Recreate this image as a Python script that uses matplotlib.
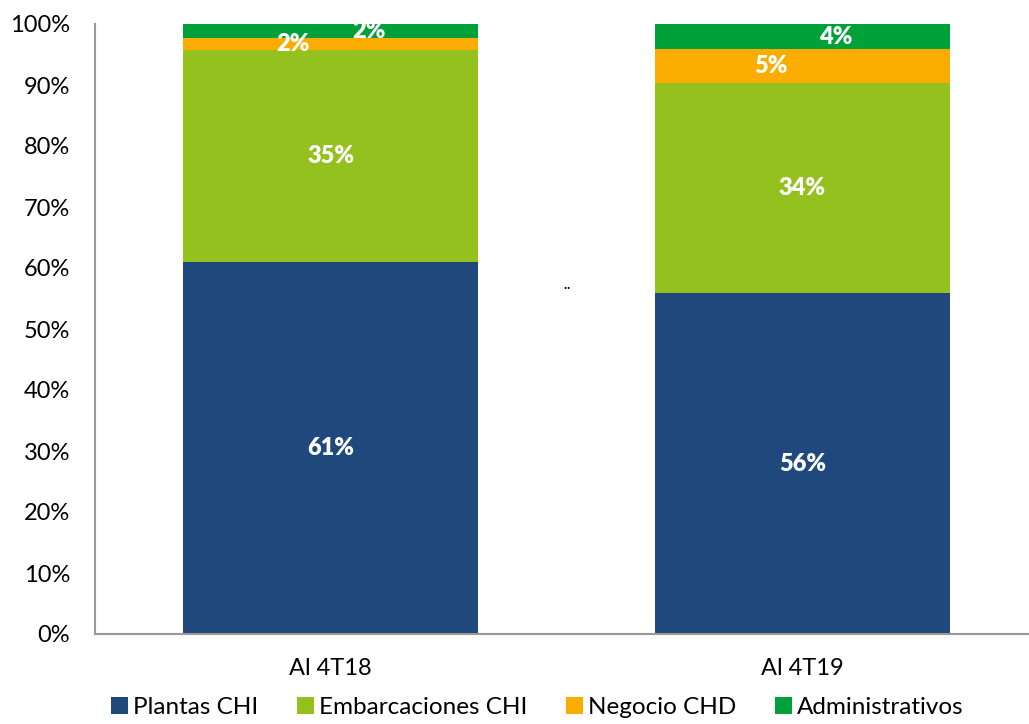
import numpy as np
import matplotlib.pyplot as plt
from matplotlib import rcParams

rcParams['font.family'] = ['Lato', 'DejaVu Sans']
rcParams.update({'font.size': 17})

categories = ['Al 4T18', 'Al 4T19']
series = ['Plantas CHI', 'Embarcaciones CHI', 'Negocio CHD', 'Administrativos']
plantas = [61.0, 55.9]
embarcaciones = [34.7, 34.4]
negocio = [2.0, 5.6]
administrativos = [2.3, 4.1]
labels = [['61%', '56%'], ['35%', '34%'], ['2%', '5%'], ['2%', '4%']]
colors = ['#1F497C', '#95C11F', '#FAAD00', '#00A03A']
# horizontal nudges of the data labels (excel placement)
label_dx = [[0, 0], [0, 0], [-0.08, -0.066], [0.08, 0.07]]

fig = plt.figure(figsize=(10.29, 7.24), dpi=100)
ax = fig.add_axes([95 / 1029, 1 - 634 / 724, 943 / 1029, 610 / 724])

x = np.arange(len(categories))
bottom = np.zeros(len(categories))
for i, vals in enumerate([plantas, embarcaciones, negocio, administrativos]):
    vals = np.array(vals)
    ax.bar(x, vals, width=0.625, bottom=bottom, color=colors[i], label=series[i])
    for j in range(len(x)):
        ax.text(x[j] + label_dx[i][j], bottom[j] + vals[j] / 2, labels[i][j],
                ha='center', va='center', color='white', fontweight='heavy', fontsize=17)
    bottom += vals

ax.text(0.5, 55.8, '¨', ha='center', va='center', fontsize=11, fontweight='bold', color='k')

ax.set_xlim(-0.5, 1.5)
ax.set_ylim(0, 100)
ax.set_yticks(np.arange(0, 101, 10))
ax.set_yticklabels(['%d%%' % v for v in range(0, 101, 10)])
ax.set_xticks(x)
ax.set_xticklabels(categories)
ax.tick_params(axis='both', length=0, labelsize=17, colors='#000000')
ax.tick_params(axis='x', pad=17)
ax.tick_params(axis='y', pad=18)
for s in ['top', 'right']:
    ax.spines[s].set_visible(False)
for s in ['left', 'bottom']:
    ax.spines[s].set_color('#999999')
    ax.spines[s].set_linewidth(1.5)

fig.legend(loc='lower center', bbox_to_anchor=(0.522, -0.022), ncol=4, frameon=False,
           handlelength=0.7, handleheight=0.7, handletextpad=0.2, columnspacing=1.6,
           fontsize=17.5)

plt.savefig('out.png', dpi=100)
plt.close()
